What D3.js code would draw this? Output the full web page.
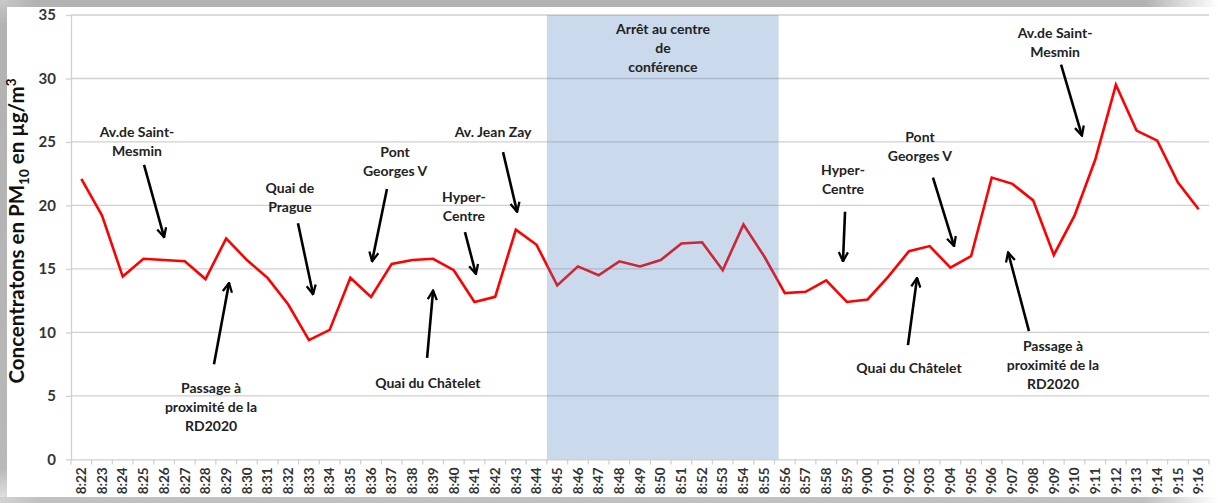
<!DOCTYPE html>
<html>
<head>
<meta charset="utf-8">
<script src="https://cdn.jsdelivr.net/npm/d3@7"></script>
<style>
  body { margin: 0; background: #fff; }
  svg { display: block; }
  text { font-family: Lato, 'Liberation Sans', sans-serif; font-weight: bold; }
</style>
</head>
<body>
<svg id="chart"></svg>
<script>
// minutes of the walk, 8:22 -> 9:16
const times = [
  '8:22', '8:23', '8:24', '8:25', '8:26', '8:27', '8:28', '8:29', '8:30', '8:31',
  '8:32', '8:33', '8:34', '8:35', '8:36', '8:37', '8:38', '8:39', '8:40', '8:41',
  '8:42', '8:43', '8:44', '8:45', '8:46', '8:47', '8:48', '8:49', '8:50', '8:51',
  '8:52', '8:53', '8:54', '8:55', '8:56', '8:57', '8:58', '8:59', '9:00', '9:01',
  '9:02', '9:03', '9:04', '9:05', '9:06', '9:07', '9:08', '9:09', '9:10', '9:11',
  '9:12', '9:13', '9:14', '9:15', '9:16',
];

// PM10 in µg/m3
const pm10 = [
  22.1, 19.2, 14.4, 15.8, 15.7, 15.6, 14.2, 17.4, 15.7, 14.3,
  12.2, 9.4, 10.2, 14.3, 12.8, 15.4, 15.7, 15.8, 14.9, 12.4,
  12.8, 18.1, 16.9, 13.7, 15.2, 14.5, 15.6, 15.2, 15.7, 17.0,
  17.1, 14.9, 18.5, 16.0, 13.1, 13.2, 14.1, 12.4, 12.6, 14.4,
  16.4, 16.8, 15.1, 16.0, 22.2, 21.7, 20.4, 16.1, 19.2, 23.6,
  29.5, 25.9, 25.1, 21.8, 19.7,
];

const yTicks = [0, 5, 10, 15, 20, 25, 30, 35];

// stop at the conference centre
const stopFirst = '8:45';
const stopLast = '8:55';
const stopLabel = ['Arrêt au centre', 'de', 'conférence'];

// annotations: x in minute index (8:22 = 0), y in µg/m3
const noteLabels = [
  ['Av.de Saint-', 'Mesmin'],
  ['Passage à', 'proximité de la', 'RD2020'],
  ['Quai de', 'Prague'],
  ['Pont', 'Georges V'],
  ['Quai du Châtelet'],
  ['Hyper-', 'Centre'],
  ['Av. Jean Zay'],
  ['Hyper-', 'Centre'],
  ['Pont', 'Georges V'],
  ['Quai du Châtelet'],
  ['Passage à', 'proximité de la', 'RD2020'],
  ['Av.de Saint-', 'Mesmin'],
];
const noteText = [
  [2.69, 25.8], [6.27, 5.6], [10.08, 21.4], [15.16, 24.2], [16.75, 6.0], [18.49, 20.7],
  [19.9, 25.8], [36.81, 22.8], [40.53, 25.4], [40.0, 7.2], [46.96, 8.9], [47.06, 33.6],
];
const noteArrowFrom = [
  [3.03, 23.2], [6.41, 7.5], [10.47, 18.6], [14.77, 21.3], [16.71, 8.0], [18.54, 17.9],
  [20.38, 24.2], [36.91, 19.5], [41.16, 22.2], [39.95, 9.0], [45.8, 10.1], [47.35, 31.1],
];
const noteArrowTo = [
  [4.0, 17.5], [7.14, 13.9], [11.2, 13.0], [14.05, 15.6], [17.0, 13.3], [19.07, 14.6],
  [21.06, 19.5], [36.81, 15.6], [42.18, 16.8], [40.39, 14.3], [44.79, 16.3], [48.36, 25.5],
];

const width = 1218;
const height = 503;
const plotLeft = 71;
const plotRight = 1209;
const plotTop = 15;
const plotBottom = 459.4;

const svg = d3.select('#chart')
  .attr('width', width)
  .attr('height', height);

// frame shadow like the pasted image
const defs = svg.append('defs');
const gTop = defs.append('linearGradient').attr('id', 'fade-h');
gTop.append('stop').attr('offset', '0%').attr('stop-color', '#c8c8c8');
gTop.append('stop').attr('offset', '3%').attr('stop-color', '#b2b2b2');
gTop.append('stop').attr('offset', '94%').attr('stop-color', '#b2b2b2');
gTop.append('stop').attr('offset', '100%').attr('stop-color', '#ffffff');
const gLeft = defs.append('linearGradient').attr('id', 'fade-v')
  .attr('x1', 0).attr('y1', 0).attr('x2', 0).attr('y2', 1);
gLeft.append('stop').attr('offset', '0%').attr('stop-color', '#c8c8c8');
gLeft.append('stop').attr('offset', '5%').attr('stop-color', '#b2b2b2');
gLeft.append('stop').attr('offset', '94%').attr('stop-color', '#b8b8b8');
gLeft.append('stop').attr('offset', '100%').attr('stop-color', '#e0e0e0');

svg.append('rect').attr('x', 0).attr('y', 0).attr('width', 1218).attr('height', 7)
  .attr('fill', 'url(#fade-h)');
svg.append('rect').attr('x', 0).attr('y', 0).attr('width', 7).attr('height', 498)
  .attr('fill', 'url(#fade-v)');
svg.append('rect').attr('x', 0).attr('y', 497).attr('width', 1218).attr('height', 6)
  .attr('fill', 'url(#fade-h)').attr('opacity', 0.8);

const x = d3.scaleBand()
  .domain(times)
  .range([plotLeft, plotRight]);
const xi = d3.scaleLinear()
  .domain([-0.5, times.length - 0.5])
  .range([plotLeft, plotRight]);
const y = d3.scaleLinear()
  .domain([0, 35])
  .range([plotBottom, plotTop]);

// gridlines
svg.append('g')
  .selectAll('line')
  .data(yTicks.filter(d => d > 0))
  .enter().append('line')
  .attr('x1', plotLeft)
  .attr('x2', plotRight)
  .attr('y1', d => y(d))
  .attr('y2', d => y(d))
  .attr('stroke', '#d0d0d0')
  .attr('stroke-width', 1.3);

// y axis
const yAxis = svg.append('g')
  .attr('transform', `translate(${plotLeft}, 0)`)
  .call(d3.axisLeft(y).tickValues(yTicks).tickSize(5).tickSizeOuter(0).tickPadding(10));
yAxis.select('.domain').attr('stroke', '#d0d0d0').attr('stroke-width', 1.3);
yAxis.selectAll('.tick line').attr('stroke', '#d0d0d0').attr('stroke-width', 1.3);
yAxis.selectAll('.tick text')
  .attr('font-size', 15)
  .attr('fill', '#333');

// x axis, labels at centres, ticks between categories
const xAxis = svg.append('g')
  .attr('transform', `translate(0, ${plotBottom})`)
  .call(d3.axisBottom(x).tickSize(0).tickSizeOuter(0));
xAxis.select('.domain').attr('stroke', '#d0d0d0').attr('stroke-width', 1.3);
xAxis.selectAll('.tick text')
  .attr('font-size', 13.5)
  .attr('fill', '#333')
  .attr('transform', 'rotate(-90)')
  .attr('text-anchor', 'end')
  .attr('x', -8)
  .attr('y', 0)
  .attr('dy', '0.35em');
xAxis.append('g')
  .selectAll('line')
  .data(d3.range(times.length + 1))
  .enter().append('line')
  .attr('x1', d => xi(d - 0.5))
  .attr('x2', d => xi(d - 0.5))
  .attr('y1', 0)
  .attr('y2', 5)
  .attr('stroke', '#d0d0d0')
  .attr('stroke-width', 1.3);

// y axis title
const yTitle = svg.append('text')
  .attr('transform', `translate(24, 231) rotate(-90)`)
  .attr('text-anchor', 'middle')
  .attr('font-size', 20.5)
  .attr('fill', '#111');
yTitle.append('tspan').text('Concentratons en PM');
yTitle.append('tspan').attr('font-size', 13.5).attr('baseline-shift', '-5').text('10');
yTitle.append('tspan').text(' en µg/m');
yTitle.append('tspan').attr('font-size', 13.5).attr('baseline-shift', '8').text('3');

// PM10 line
const line = d3.line()
  .x((d, i) => x(times[i]) + x.bandwidth() / 2)
  .y(d => y(d));
svg.append('path')
  .datum(pm10)
  .attr('fill', 'none')
  .attr('stroke', '#ff0000')
  .attr('stroke-width', 2.6)
  .attr('stroke-linejoin', 'miter')
  .attr('d', line);

// shaded stop period drawn over the line
const stopX0 = x(stopFirst);
const stopX1 = xi(times.indexOf(stopLast) + 0.7);
svg.append('rect')
  .attr('x', stopX0)
  .attr('y', plotTop)
  .attr('width', stopX1 - stopX0)
  .attr('height', plotBottom - plotTop)
  .attr('fill', 'rgb(79,129,189)')
  .attr('opacity', 0.3);

svg.append('text')
  .attr('text-anchor', 'middle')
  .attr('font-size', 14)
  .attr('fill', '#222')
  .selectAll('tspan')
  .data(stopLabel)
  .enter().append('tspan')
  .attr('x', xi(28.11))
  .attr('y', (d, i) => y(33.9) + i * 19 + 5)
  .text(d => d);

// annotations
defs.append('marker')
  .attr('id', 'arrow')
  .attr('viewBox', '0 0 10 10')
  .attr('refX', 9)
  .attr('refY', 5)
  .attr('markerWidth', 4.4)
  .attr('markerHeight', 4.4)
  .attr('orient', 'auto')
  .append('path')
  .attr('d', 'M1,1 L9,5 L1,9')
  .attr('fill', 'none')
  .attr('stroke', '#000')
  .attr('stroke-width', 2);

const notes = svg.append('g').attr('class', 'notes');
noteLabels.forEach((lines, k) => {
  const t = notes.append('text')
    .attr('text-anchor', 'middle')
    .attr('font-size', 14)
    .attr('fill', '#222');
  lines.forEach((s, i) => {
    t.append('tspan')
      .attr('x', xi(noteText[k][0]))
      .attr('y', y(noteText[k][1]) + i * 19 + 5)
      .text(s);
  });
  notes.append('line')
    .attr('x1', xi(noteArrowFrom[k][0]))
    .attr('y1', y(noteArrowFrom[k][1]))
    .attr('x2', xi(noteArrowTo[k][0]))
    .attr('y2', y(noteArrowTo[k][1]))
    .attr('stroke', '#000')
    .attr('stroke-width', 2.6)
    .attr('marker-end', 'url(#arrow)');
});
</script>
</body>
</html>
